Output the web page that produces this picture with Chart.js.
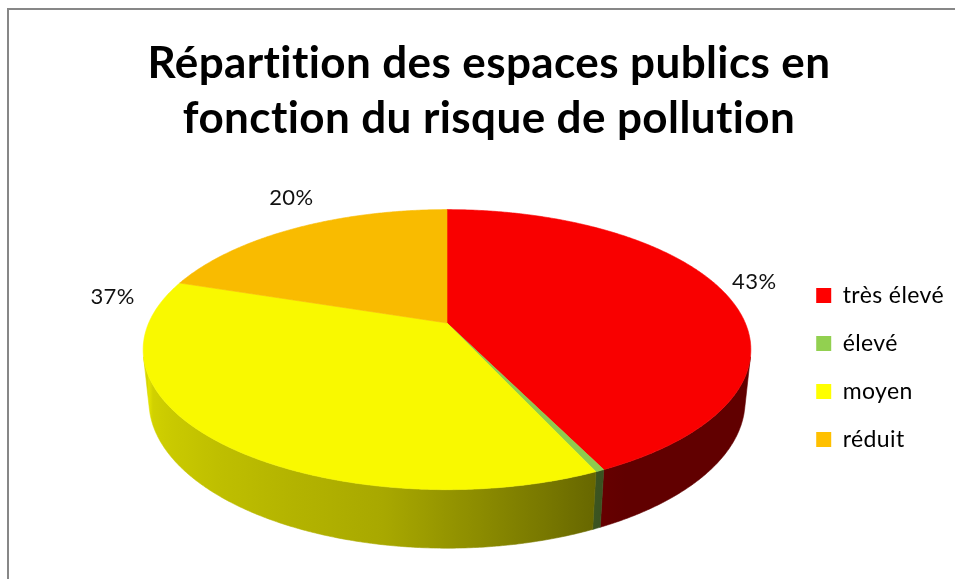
<!DOCTYPE html>
<html>
<head>
<meta charset="utf-8">
<script src="https://cdn.jsdelivr.net/npm/chart.js@4.4.1/dist/chart.umd.min.js"></script>
<style>
  html, body { margin: 0; padding: 0; background: #fff; }
  #wrap { width: 955px; height: 579px; }
</style>
</head>
<body>
<div id="wrap"><canvas id="chart" width="955" height="579"></canvas></div>
<script>
const titleLines = ["Répartition des espaces publics en", "fonction du risque de pollution"];
const categories = ["très élevé", "élevé", "moyen", "réduit"];
const shares = [43, 0.4, 37, 20];
const colors = ["#FF0000", "#92D050", "#FFFF00", "#FFC000"];

// where each % label sits: fraction along its slice, distance from centre (1 = rim)
const labelFrac = [0.477, 0.5, 0.935, 0.59];
const labelDist = [1.14, 1.1, 1.18, 1.29];

// 3D view of the pie (perspective)
const CX = 447, CY = 323;
const FOCAL = 1399, DIST = 4.69, DEPTH = 0.194;
const ELEV = 26.9 * Math.PI / 180;
const SE = Math.sin(ELEV), CE = Math.cos(ELEV);
const A_MIN = Math.asin(1 / (DIST * CE)), A_MAX = Math.PI - A_MIN;

function project(a, r, h) {
  const X = r * Math.cos(a), Z = r * Math.sin(a), Y = h;
  const depth = DIST - (Y * SE + Z * CE);
  const up = Y * CE - Z * SE;
  return [CX + FOCAL * X / depth, CY - FOCAL * up / depth];
}

// wall shading by angle (degrees)
const shadeStops = [[0, 0.38], [60, 0.38], [65, 0.40], [100, 0.66], [180, 0.89]];
function shade(deg) {
  for (let i = 1; i < shadeStops.length; i++) {
    const [d0, s0] = shadeStops[i - 1], [d1, s1] = shadeStops[i];
    if (deg <= d1) return s0 + (s1 - s0) * (deg - d0) / (d1 - d0);
  }
  return shadeStops[shadeStops.length - 1][1];
}

function scaled(hex, k) {
  const n = parseInt(hex.slice(1), 16);
  const r = Math.round(((n >> 16) & 255) * k), g = Math.round(((n >> 8) & 255) * k), b = Math.round((n & 255) * k);
  return `rgb(${r},${g},${b})`;
}

function rimPath(ctx, a0, a1, r, h, first) {
  const steps = Math.max(2, Math.ceil(Math.abs(a1 - a0) / 0.008));
  for (let i = 0; i <= steps; i++) {
    const p = project(a0 + (a1 - a0) * i / steps, r, h);
    if (i === 0 && first) ctx.moveTo(p[0], p[1]); else ctx.lineTo(p[0], p[1]);
  }
}

const pie3d = {
  id: "pie3d",
  beforeDraw(chart) {
    const ctx = chart.ctx;
    // no "ti" ligatures, closer to the original font
    ctx.letterSpacing = "0.4px";
    ctx.save();
    ctx.strokeStyle = "#878787";
    ctx.lineWidth = 2;
    ctx.strokeRect(8, 9, 980, 600);
    ctx.restore();
  },
  beforeDatasetsDraw(chart) {
    const ctx = chart.ctx;
    const meta = chart.getDatasetMeta(0);
    const arcs = meta.data;
    const total = shares.reduce((s, v) => s + v, 0);
    ctx.save();

    // side walls (front half only)
    const xl = project(A_MAX, 1, 0)[0], xr = project(A_MIN, 1, 0)[0];
    arcs.forEach((arc, i) => {
      const a0 = Math.max(arc.startAngle, A_MIN), a1 = Math.min(arc.endAngle, A_MAX);
      if (a1 <= a0) return;
      const grad = ctx.createLinearGradient(xl, 0, xr, 0);
      for (let d = 180; d >= 0; d -= 5) {
        const x = project(d * Math.PI / 180, 1, 0)[0];
        const t = Math.min(1, Math.max(0, (x - xl) / (xr - xl)));
        grad.addColorStop(t, scaled(colors[i], shade(d)));
      }
      ctx.beginPath();
      rimPath(ctx, a0, a1, 1, 0, true);
      rimPath(ctx, a1, a0, 1, -DEPTH, false);
      ctx.closePath();
      ctx.fillStyle = grad;
      ctx.fill();
      ctx.strokeStyle = grad;
      ctx.lineWidth = 0.6;
      ctx.stroke();
    });

    // top face
    arcs.forEach((arc, i) => {
      const c = scaled(colors[i], 0.975);
      ctx.beginPath();
      ctx.moveTo(CX, CY);
      rimPath(ctx, arc.startAngle, arc.endAngle, 1, 0, false);
      ctx.closePath();
      ctx.fillStyle = c;
      ctx.fill();
      ctx.strokeStyle = c;
      ctx.lineWidth = 0.6;
      ctx.stroke();
    });

    // percentage labels
    ctx.fillStyle = "#111";
    ctx.font = "22px Lato";
    ctx.textAlign = "center";
    ctx.textBaseline = "middle";
    arcs.forEach((arc, i) => {
      const pct = Math.round(shares[i] / total * 100);
      if (pct < 1) return;
      const a = arc.startAngle + (arc.endAngle - arc.startAngle) * labelFrac[i];
      const p = project(a, labelDist[i], 0);
      ctx.fillText(pct + "%", p[0], p[1]);
    });
    ctx.restore();
    return false;
  }
};

new Chart(document.getElementById("chart").getContext("2d"), {
  type: "pie",
  data: {
    labels: categories,
    datasets: [{
      data: shares,
      backgroundColor: colors,
      borderWidth: 0,
      clip: false
    }]
  },
  options: {
    responsive: false,
    animation: false,
    events: [],
    layout: { padding: { left: 28, right: 5, top: 0, bottom: 0 } },
    plugins: {
      title: {
        display: true,
        text: titleLines,
        color: "#000",
        font: { family: "Lato", size: 44, weight: "bold", lineHeight: 1.25 },
        padding: { top: 36, bottom: 10 }
      },
      legend: {
        position: "right",
        fullSize: false,
        labels: {
          boxWidth: 15,
          boxHeight: 15,
          padding: 25,
          color: "#000",
          font: { family: "Lato", size: 23 }
        }
      },
      tooltip: { enabled: false }
    }
  },
  plugins: [pie3d]
});
</script>
</body>
</html>
